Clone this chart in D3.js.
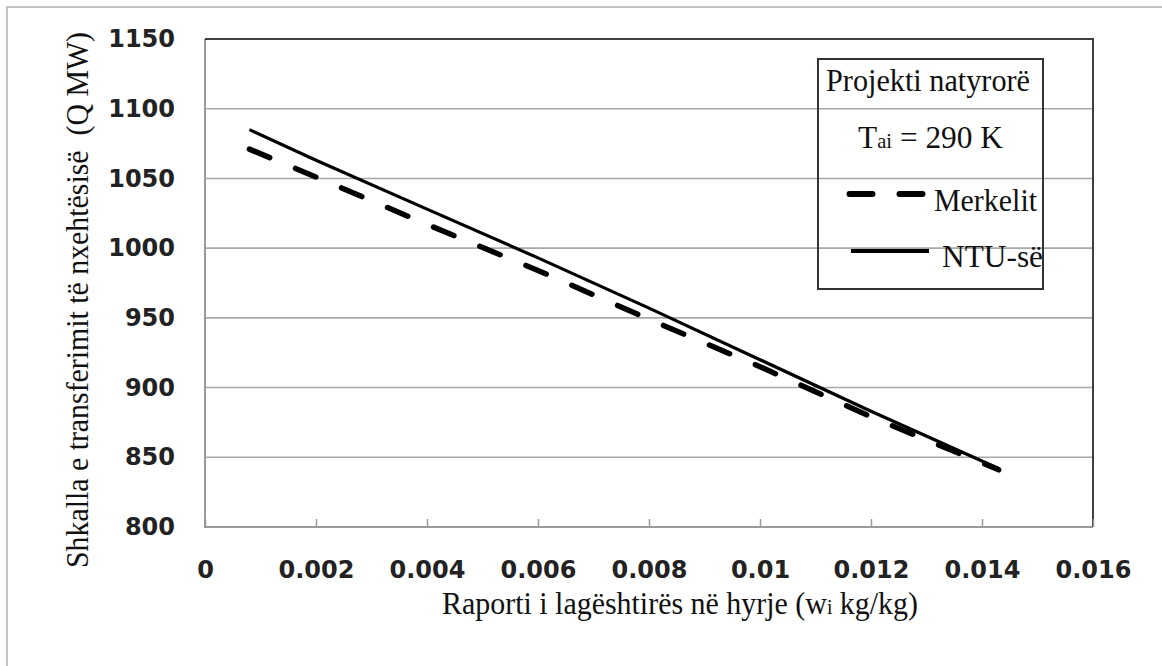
<!DOCTYPE html>
<html>
<head>
<meta charset="utf-8">
<script src="https://cdn.jsdelivr.net/npm/d3@7"></script>
<style>
  body { margin: 0; background: #fff; }
  .tick text { font-family: "DejaVu Sans", Verdana, sans-serif; font-weight: bold; font-size: 24px; fill: #222; }
</style>
</head>
<body>
<svg id="chart" width="1162" height="666"></svg>
<script>
// moisture ratio at inlet (kg/kg)
var wi = [0.0008, 0.002, 0.004, 0.006, 0.008, 0.010, 0.012, 0.0143];
// heat transfer rate, MW
var merkelit = [1071, 1051, 1017, 984, 949, 915, 879, 841];
var ntu = [1085, 1063, 1028, 993, 957, 920, 883, 842];
var xTicks = [0, 0.002, 0.004, 0.006, 0.008, 0.01, 0.012, 0.014, 0.016];
var yTicks = [800, 850, 900, 950, 1000, 1050, 1100, 1150];

var serif = "'Liberation Serif', 'Times New Roman', serif";

var svg = d3.select("#chart"),
    margin = {top: 39, right: 69, bottom: 139, left: 205},
    width = +svg.attr("width") - margin.left - margin.right,
    height = +svg.attr("height") - margin.top - margin.bottom;

// outer frame (only left/top visible)
svg.append("path")
    .attr("d", "M7,700V7H1200")
    .attr("fill", "none")
    .attr("stroke", "#c4c4c4")
    .attr("stroke-width", 2);

var g = svg.append("g").attr("transform", "translate(" + margin.left + "," + margin.top + ")");

var x = d3.scaleLinear().domain([0, 0.016]).range([0, width]);
var y = d3.scaleLinear().domain([800, 1150]).range([height, 0]);

// gridlines
g.append("g")
  .selectAll("line")
  .data(yTicks.slice(1, -1))
  .enter().append("line")
    .attr("x1", 0).attr("x2", width)
    .attr("y1", function(d) { return y(d); })
    .attr("y2", function(d) { return y(d); })
    .attr("stroke", "#a8a8a8")
    .attr("stroke-width", 1.6);

// plot frame: light left/bottom, dark top/right
g.append("path")
    .attr("d", "M0,0V" + height + "H" + width)
    .attr("fill", "none").attr("stroke", "#9a9a9a").attr("stroke-width", 2);
g.append("path")
    .attr("d", "M0,0H" + width + "V" + height)
    .attr("fill", "none").attr("stroke", "#404040").attr("stroke-width", 2);

var xAxis = g.append("g")
    .attr("transform", "translate(0," + height + ")")
    .call(d3.axisBottom(x).tickValues(xTicks).tickSize(-8).tickPadding(34)
      .tickFormat(function(d) { return d === 0 ? "0" : String(+d.toFixed(3)); }));
xAxis.select(".domain").remove();
xAxis.selectAll(".tick line").attr("stroke", "#9a9a9a").attr("stroke-width", 1.5);

var yAxis = g.append("g")
    .call(d3.axisLeft(y).tickValues(yTicks).tickSize(0).tickPadding(30)
      .tickFormat(d3.format("d")));
yAxis.select(".domain").remove();

var line = d3.line()
    .x(function(d, i) { return x(wi[i]); })
    .y(function(d) { return y(d); });

g.append("path")
    .datum(ntu)
    .attr("fill", "none")
    .attr("stroke", "#000")
    .attr("stroke-width", 3.2)
    .attr("stroke-linejoin", "round")
    .attr("d", line);

g.append("path")
    .datum(merkelit)
    .attr("fill", "none")
    .attr("stroke", "#000")
    .attr("stroke-width", 5.5)
    .attr("stroke-linecap", "round")
    .attr("stroke-dasharray", "22,28")
    .attr("d", line);

function serText(sel) {
  return sel.append("text")
    .attr("font-family", serif)
    .attr("fill", "#111")
    .attr("font-size", 32)
    .attr("lengthAdjust", "spacingAndGlyphs");
}

// axis titles
serText(svg)
    .attr("x", 680).attr("y", 614)
    .attr("text-anchor", "middle")
    .attr("textLength", 476)
    .html('Raporti i lagështirës në hyrje (w<tspan font-size="21">i</tspan> kg/kg)');

serText(svg)
    .attr("transform", "translate(88,300) rotate(-90)")
    .attr("text-anchor", "middle")
    .attr("textLength", 536)
    .text("Shkalla e transferimit të nxehtësisë\u00a0 (Q MW)");

// legend
var leg = svg.append("g");
leg.append("rect")
    .attr("x", 818).attr("y", 59).attr("width", 225).attr("height", 230)
    .attr("fill", "none").attr("stroke", "#333").attr("stroke-width", 2);

serText(leg)
    .attr("x", 928).attr("y", 91).attr("text-anchor", "middle")
    .attr("textLength", 204)
    .text("Projekti natyrorë");

serText(leg)
    .attr("x", 858).attr("y", 148)
    .attr("textLength", 145)
    .html('T<tspan font-size="21">ai</tspan> = 290 K');

leg.append("line")
    .attr("x1", 849.5).attr("x2", 925).attr("y1", 194).attr("y2", 194)
    .attr("stroke", "#000").attr("stroke-width", 6)
    .attr("stroke-linecap", "round").attr("stroke-dasharray", "23,27");
serText(leg)
    .attr("x", 934).attr("y", 211)
    .attr("textLength", 103)
    .text("Merkelit");

leg.append("line")
    .attr("x1", 851).attr("x2", 929).attr("y1", 251).attr("y2", 251)
    .attr("stroke", "#000").attr("stroke-width", 4);
serText(leg)
    .attr("x", 942).attr("y", 267)
    .attr("textLength", 101)
    .text("NTU-së");
</script>
</body>
</html>
